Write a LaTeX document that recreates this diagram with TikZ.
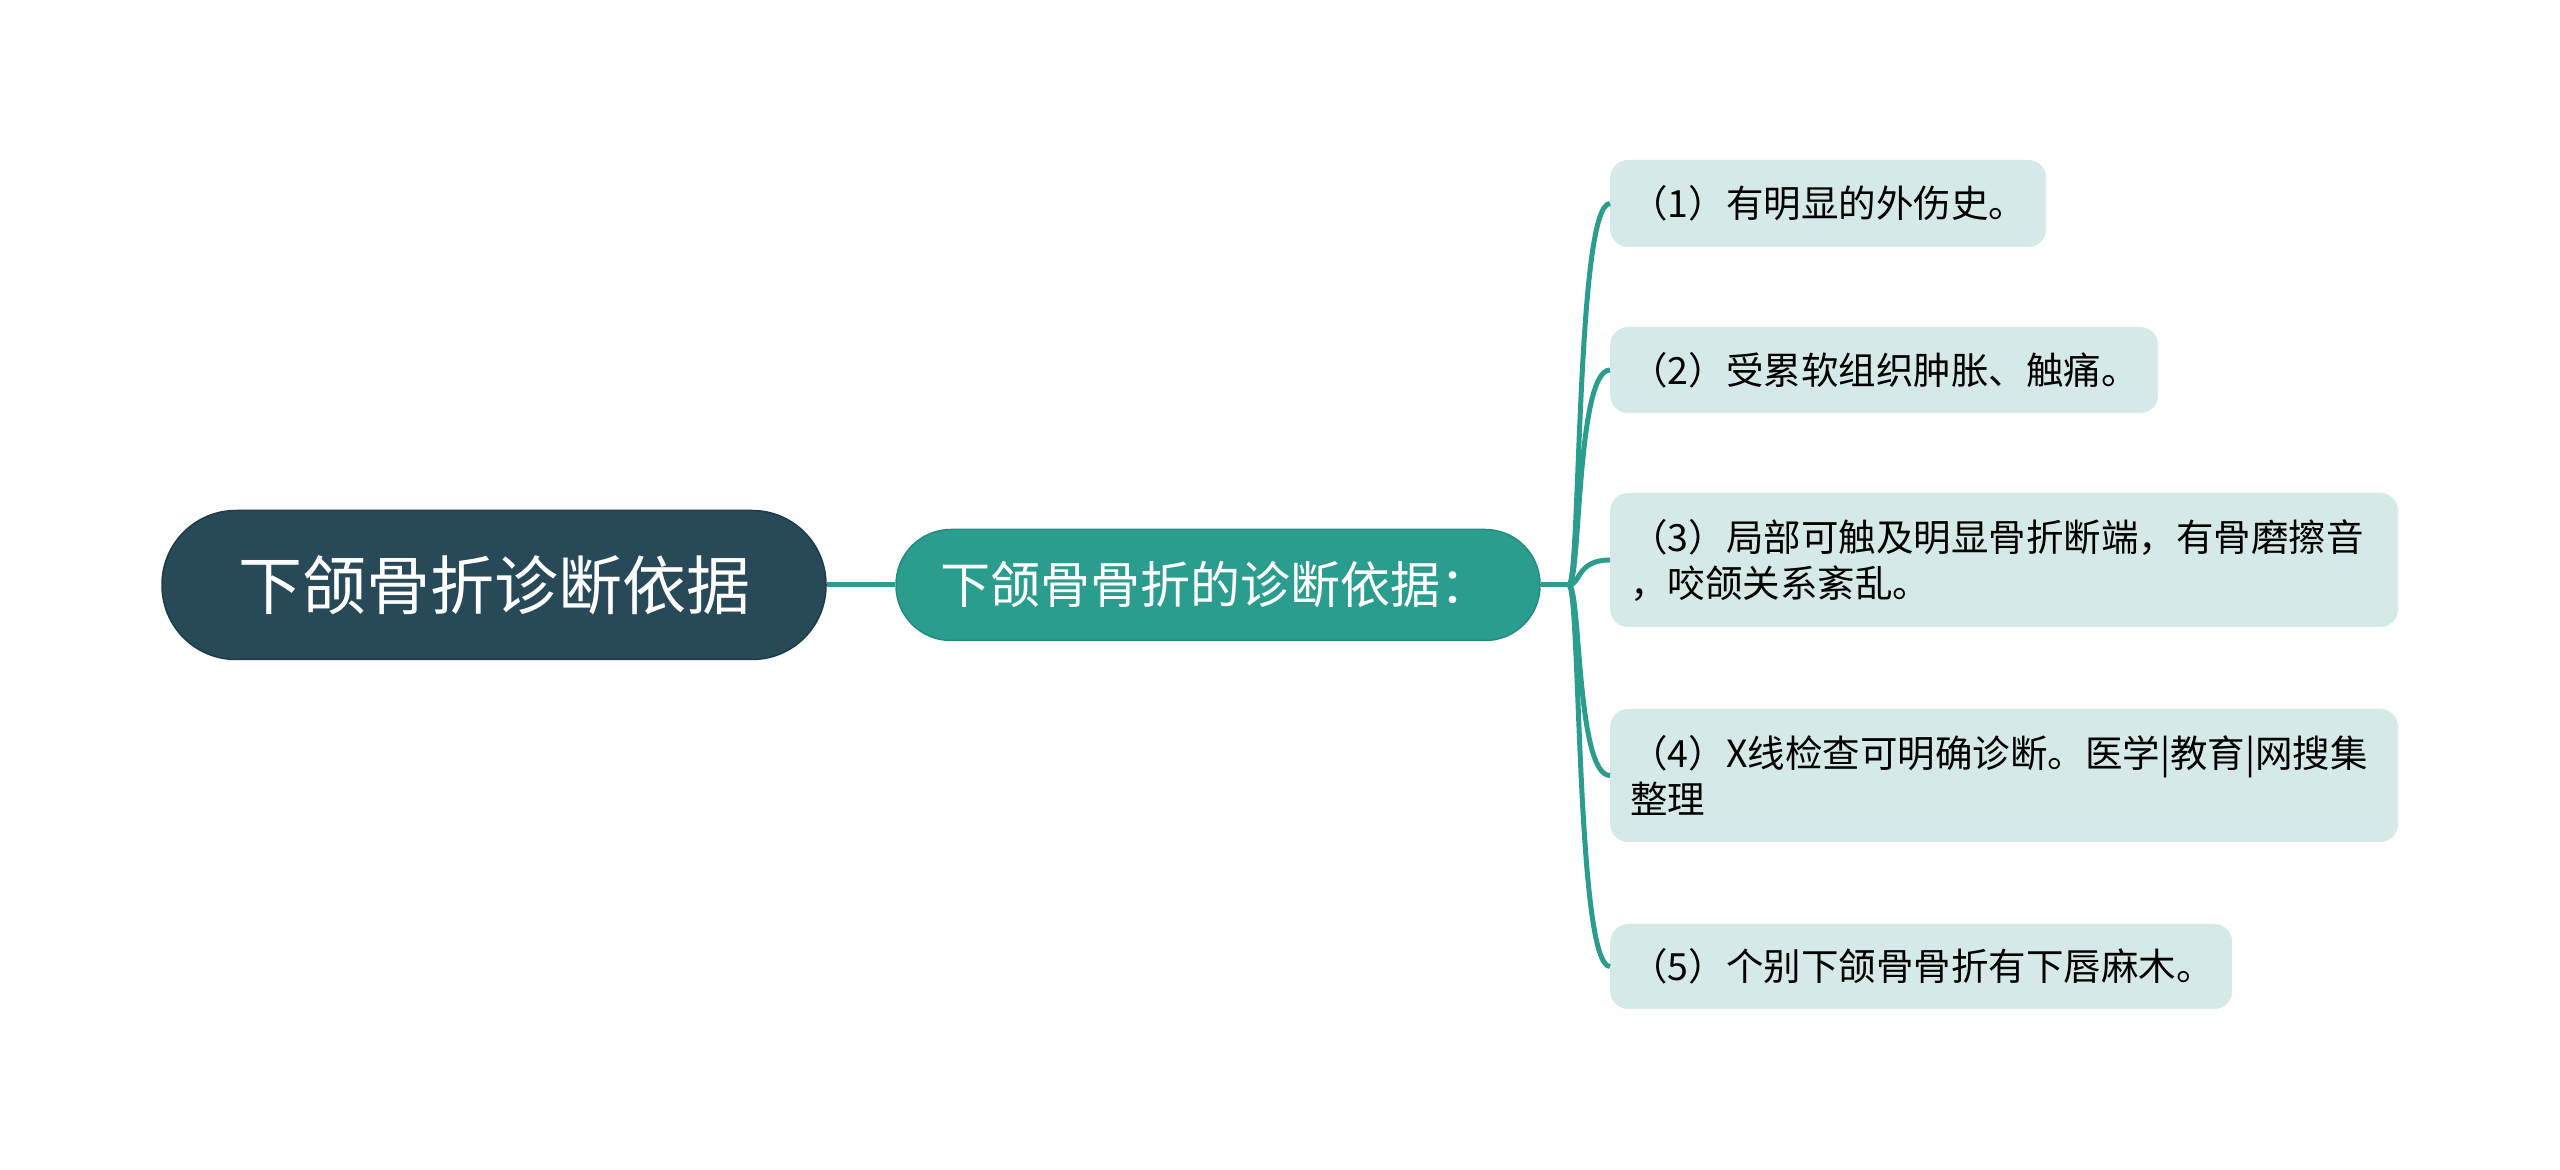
\documentclass[tikz,border=0pt]{standalone}
\usepackage{fontspec}
\newfontfamily\cjk{Noto Sans CJK SC}
\definecolor{rootfill}{HTML}{284A58}
\definecolor{rootedge}{HTML}{1E3B47}
\definecolor{midfill}{HTML}{2A9D8F}
\definecolor{midedge}{HTML}{248C7F}
\definecolor{leaffill}{HTML}{D5EAE8}
\definecolor{linkcol}{HTML}{2A9D8F}
\begin{document}
\begin{tikzpicture}[x=1pt,y=1pt,
  rootbox/.style={draw=rootedge,line width=1.5pt,fill=rootfill,rounded corners=74pt,
    minimum width=664pt,minimum height=149pt,inner sep=0pt,text=white,
    font=\cjk\fontsize{64}{76}\selectfont},
  midbox/.style={draw=midedge,line width=1.5pt,fill=midfill,rounded corners=55pt,
    minimum width=644pt,minimum height=111pt,inner sep=0pt,text=white,
    font=\cjk\fontsize{50}{60}\selectfont},
  leafbox/.style={fill=leaffill,rounded corners=18pt,anchor=west,align=left,
    inner xsep=20pt,inner ysep=0pt,text=black,
    font=\cjk\fontsize{37.5}{46}\selectfont},
  link/.style={draw=linkcol,line width=5pt}]
\useasboundingbox (0,0) rectangle (2560,1170);

\node[rootbox] (root) at (494,585) {下颌骨折诊断依据};
\node[midbox] (mid) at (1218,585) {\hspace*{-6pt}下颌骨骨折的诊断依据：};

\node[leafbox,text width=396pt,minimum height=87pt] (c1) at (1610,966.5) {（1）有明显的外伤史。};
\node[leafbox,text width=508pt,minimum height=86pt] (c2) at (1610,800) {（2）受累软组织肿胀、触痛。};
\node[leafbox,text width=748pt,minimum height=134pt] (c3) at (1610,610) {（3）局部可触及明显骨折断端，有骨磨擦音\\，咬颌关系紊乱。};
\node[leafbox,text width=748pt,minimum height=133pt] (c4) at (1610,394.5) {（4）X线检查可明确诊断。医学|教育|网搜集\\整理};
\node[leafbox,text width=582pt,minimum height=85pt] (c5) at (1610,203.5) {（5）个别下颌骨骨折有下唇麻木。};

\draw[link] (root.east) -- (mid.west);
\coordinate (j) at ([xshift=28pt]mid.east);
\draw[link] (mid.east) -- (j);
\foreach \c in {c1,c2,c3,c4,c5}{
  \draw[link] (j) .. controls ([xshift=12pt]j) and ([xshift=-34pt]\c.west) .. (\c.west);
}
\end{tikzpicture}
\end{document}
